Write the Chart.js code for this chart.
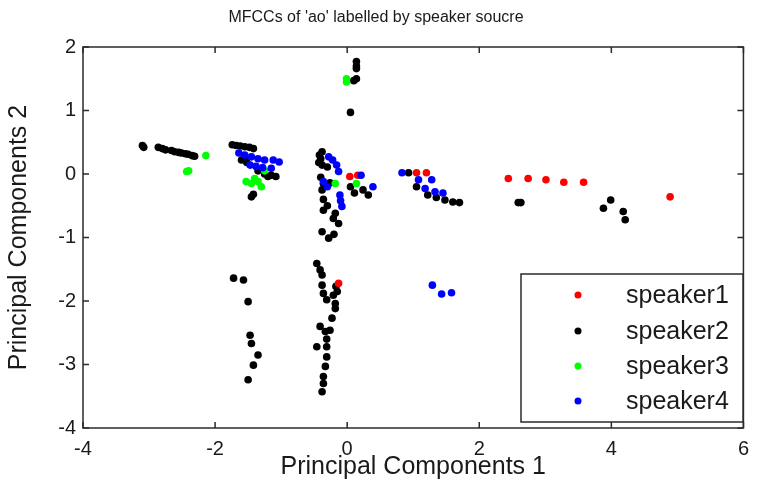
<!DOCTYPE html>
<html>
<head>
<meta charset="utf-8">
<script src="https://cdn.jsdelivr.net/npm/chart.js@4/dist/chart.umd.min.js"></script>
<style>
  html, body { margin: 0; padding: 0; background: #fff; }
  #wrap { width: 758px; height: 497px; }
</style>
</head>
<body>
<div id="wrap"><canvas id="chart" width="758" height="497"></canvas></div>
<script>
const seriesNames = ['speaker1', 'speaker2', 'speaker3', 'speaker4'];
const seriesColors = ['#ff0000', '#000000', '#00ff00', '#0000ff'];

// speaker1 (red)
const s1X = [0.04, 0.16, 1.05, 1.20, 2.44, 2.74, 3.01, 3.28, 3.58, 4.89, -0.13];
const s1Y = [-0.04, -0.02, 0.02, 0.02, -0.07, -0.07, -0.09, -0.13, -0.13, -0.36, -1.72];

// speaker2 (black)
const s2X = [
  -3.10, -3.08, -2.86, -2.80, -2.75, -2.66, -2.61, -2.55, -2.51, -2.45, -2.41, -2.35, -2.31,
  -1.74, -1.68, -1.62, -1.55, -1.48, -1.42, -1.60, -1.52, -1.55, -1.20, -1.08, -1.15, -1.45, -1.42, -1.35, -1.25,
  -1.72, -1.57, -1.50, -1.47, -1.45, -1.35, -1.42, -1.50,
  0.14, 0.14, 0.14, 0.14, 0.10, 0.05,
  -0.38, -0.42, -0.40, -0.43, -0.38, -0.30, -0.38, -0.40, -0.36, -0.26, -0.36, -0.36, -0.30, -0.21, -0.13, -0.18,
  0.24, 0.11, 0.32, 0.05, -0.38, -0.28, -0.20,
  0.93, 1.05, 1.22, 1.35, 1.48, 1.60, 1.70, 2.59, 2.63, 3.99, 3.88, 4.18, 4.21,
  -0.46, -0.41, -0.38, -0.17, -0.15, -0.38, -0.36, -0.31, -0.21, -0.18, -0.18, -0.23, -0.41, -0.33, -0.26,
  -0.46, -0.31, -0.31, -0.31, -0.33, -0.36, -0.36, -0.38
];
const s2Y = [
  0.45, 0.42, 0.42, 0.40, 0.38, 0.37, 0.35, 0.34, 0.33, 0.32, 0.31, 0.29, 0.28,
  0.46, 0.45, 0.44, 0.43, 0.42, 0.40, 0.22, 0.18, 0.26, -0.04, -0.04, -0.02, -0.36, -0.32, 0.05, 0.00,
  -1.64, -1.67, -2.01, -2.54, -2.67, -2.85, -3.01, -3.24,
  1.77, 1.70, 1.66, 1.50, 1.47, 0.97,
  0.35, 0.30, 0.24, 0.18, 0.14, 0.11, -0.25, -0.05, -0.15, -0.14, -0.40, -0.57, -0.50, -0.70, -0.78, -0.62,
  -0.25, -0.30, -0.33, -0.20, -0.91, -1.01, -0.95,
  0.02, -0.20, -0.33, -0.37, -0.41, -0.44, -0.45, -0.45, -0.45, -0.41, -0.54, -0.59, -0.72,
  -1.41, -1.51, -1.59, -1.77, -1.85, -1.75, -1.88, -1.98, -1.91, -2.04, -2.12, -2.27, -2.40, -2.48, -2.46,
  -2.72, -2.60, -2.72, -2.88, -3.03, -3.19, -3.30, -3.43
];

// speaker3 (green)
const s3X = [-2.43, -2.40, -2.14, -1.53, -1.40, -1.30, -1.45, -1.35, -1.25, -0.01, -0.01, -0.18, 0.14];
const s3Y = [0.04, 0.05, 0.29, -0.12, -0.07, -0.20, -0.15, -0.12, 0.05, 1.45, 1.50, -0.15, -0.15];

// speaker4 (blue)
const s4X = [
  -1.64, -1.55, -1.45, -1.35, -1.25, -1.12, -1.03, -1.47, -1.38, -1.28, -1.15,
  -0.28, -0.22, -0.16, -0.13, -0.36, -0.30, -0.11, -0.08, -0.10, 0.21, 0.39,
  0.83, 1.08, 1.28, 1.18, 1.33, 1.45, 1.29, 1.43, 1.58
];
const s4Y = [
  0.33, 0.30, 0.27, 0.24, 0.22, 0.22, 0.19, 0.14, 0.12, 0.10, 0.09,
  0.27, 0.22, 0.14, 0.04, -0.12, -0.20, -0.33, -0.51, -0.42, -0.02, -0.20,
  0.02, -0.09, -0.09, -0.23, -0.28, -0.30, -1.75, -1.89, -1.87
];

const xTicks = [-4, -2, 0, 2, 4, 6];
const yTicks = [-4, -3, -2, -1, 0, 1, 2];

const FONT = "'Liberation Sans', Arial, Helvetica, sans-serif";

function toPoints(xs, ys) {
    return xs.map((x, i) => ({ x: x, y: ys[i] }));
}

const allX = [s1X, s2X, s3X, s4X];
const allY = [s1Y, s2Y, s3Y, s4Y];
const drawOrder = [3, 4, 2, 1];

const datasets = seriesNames.map((name, i) => ({
    label: name,
    data: toPoints(allX[i], allY[i]),
    backgroundColor: seriesColors[i],
    borderColor: seriesColors[i],
    borderWidth: 0,
    pointRadius: 3.8,
    pointHoverRadius: 3.8,
    order: drawOrder[i]
}));

// box, inward ticks and legend in the MATLAB look
const frameAndLegend = {
    id: 'frameAndLegend',
    afterDraw(chart) {
        const ctx = chart.ctx;
        const a = chart.chartArea;
        const xs = chart.scales.x;
        const ys = chart.scales.y;
        const tl = 6;
        ctx.save();
        ctx.strokeStyle = '#2b2b2b';
        ctx.lineWidth = 1.5;
        ctx.strokeRect(a.left, a.top, a.right - a.left, a.bottom - a.top);
        ctx.beginPath();
        xTicks.forEach(v => {
            const px = xs.getPixelForValue(v);
            ctx.moveTo(px, a.bottom); ctx.lineTo(px, a.bottom - tl);
            ctx.moveTo(px, a.top); ctx.lineTo(px, a.top + tl);
        });
        yTicks.forEach(v => {
            const py = ys.getPixelForValue(v);
            ctx.moveTo(a.left, py); ctx.lineTo(a.left + tl, py);
            ctx.moveTo(a.right, py); ctx.lineTo(a.right - tl, py);
        });
        ctx.stroke();

        // legend
        const lx = 521, ly = 274, lw = 222, lh = 148;
        ctx.fillStyle = '#fff';
        ctx.fillRect(lx, ly, lw, lh);
        ctx.strokeStyle = '#2b2b2b';
        ctx.strokeRect(lx, ly, lw, lh);
        const rows = [295, 331, 366, 401];
        ctx.font = '25px ' + FONT;
        ctx.textBaseline = 'middle';
        ctx.textAlign = 'left';
        seriesNames.forEach((name, i) => {
            ctx.fillStyle = seriesColors[i];
            ctx.beginPath();
            ctx.arc(578, rows[i], 3.5, 0, Math.PI * 2);
            ctx.fill();
            ctx.fillStyle = '#1a1a1a';
            ctx.fillText(name, 626, rows[i] + 1);
        });
        ctx.restore();
    }
};

new Chart(document.getElementById('chart').getContext('2d'), {
    type: 'scatter',
    data: { datasets: datasets },
    plugins: [frameAndLegend],
    options: {
        responsive: false,
        animation: false,
        events: [],
        layout: { padding: { left: 0, right: 6, top: 0, bottom: 0 } },
        plugins: {
            legend: { display: false },
            tooltip: { enabled: false },
            title: {
                display: true,
                text: "MFCCs of 'ao' labelled by speaker soucre",
                color: '#1a1a1a',
                font: { family: FONT, size: 16, weight: 'normal', lineHeight: 1.2 },
                padding: { top: 8.4, bottom: 19.4 }
            }
        },
        scales: {
            x: {
                type: 'linear',
                min: -4,
                max: 6,
                afterFit: s => { s.height = 69; },
                afterBuildTicks: s => { s.ticks = xTicks.map(v => ({ value: v })); },
                grid: { display: false, drawTicks: false },
                border: { display: false },
                ticks: {
                    color: '#1a1a1a',
                    padding: 9,
                    maxRotation: 0,
                    font: { family: FONT, size: 20 }
                },
                title: {
                    display: true,
                    text: 'Principal Components 1',
                    color: '#1a1a1a',
                    font: { family: FONT, size: 25 },
                    padding: { top: 0, bottom: 15 }
                }
            },
            y: {
                type: 'linear',
                min: -4,
                max: 2,
                afterFit: s => { s.width = 83; },
                afterBuildTicks: s => { s.ticks = yTicks.map(v => ({ value: v })); },
                grid: { display: false, drawTicks: false },
                border: { display: false },
                ticks: {
                    color: '#1a1a1a',
                    padding: 7,
                    font: { family: FONT, size: 20 }
                },
                title: {
                    display: true,
                    text: 'Principal Components 2',
                    color: '#1a1a1a',
                    font: { family: FONT, size: 25 },
                    padding: { top: 4, bottom: 0 }
                }
            }
        }
    }
});
</script>
</body>
</html>
